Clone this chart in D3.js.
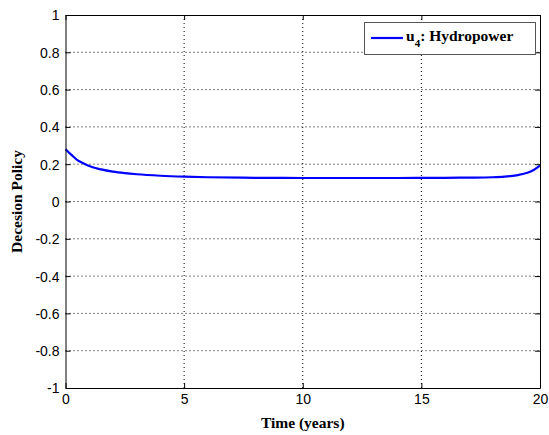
<!DOCTYPE html>
<html><head><meta charset="utf-8">
<script src="https://cdn.jsdelivr.net/npm/d3@7"></script>
<style>body{margin:0;background:#fff}</style>
</head><body><svg id="c" width="549" height="435"></svg>
<script>
const times = [0,0.25,0.5,0.75,1,1.5,2,2.5,3,4,5,6,8,10,12,14,16,17,18,18.5,19,19.5,19.75,20];
const values = [0.28,0.25,0.222,0.205,0.19,0.172,0.16,0.152,0.146,0.138,0.133,0.13,0.127,0.126,0.126,0.126,0.127,0.128,0.13,0.133,0.14,0.155,0.17,0.192];
const xTicks = [0,5,10,15,20];
const yTicks = [-1,-0.8,-0.6,-0.4,-0.2,0,0.2,0.4,0.6,0.8,1];
const seriesName = "Hydropower";

const svg = d3.select("#c");
const L=65.5,R=540,T=15,B=388;
const x = d3.scaleLinear().domain([0,20]).range([L,R]);
const y = d3.scaleLinear().domain([-1,1]).range([B,T]);

const g = svg.append("g");
g.selectAll(".gx").data(xTicks.slice(1,-1)).enter().append("line")
 .attr("x1",d=>x(d)).attr("x2",d=>x(d)).attr("y1",T).attr("y2",B)
 .attr("stroke","#000").attr("stroke-width",1).attr("stroke-dasharray","1,3");
g.selectAll(".gy").data(yTicks.slice(1,-1)).enter().append("line")
 .attr("y1",d=>y(d)).attr("y2",d=>y(d)).attr("x1",L).attr("x2",R)
 .attr("stroke","#000").attr("stroke-width",1).attr("stroke-dasharray","1,3");

const line = d3.line().x((d,i)=>x(times[i])).y(d=>y(d)).curve(d3.curveMonotoneX);
svg.append("path").attr("d",line(values)).attr("fill","none").attr("stroke","#0000ff").attr("stroke-width",2.2);

const fmt = d=> String(+d.toFixed(2));
const ax = svg.append("g").attr("transform",`translate(0,${B})`)
 .call(d3.axisBottom(x).tickValues(xTicks).tickSizeInner(-5).tickSizeOuter(0).tickPadding(6).tickFormat(fmt));
const axT = svg.append("g").attr("transform",`translate(0,${T})`)
 .call(d3.axisTop(x).tickValues(xTicks).tickSizeInner(-5).tickSizeOuter(0).tickFormat(""));
const ay = svg.append("g").attr("transform",`translate(${L},0)`)
 .call(d3.axisLeft(y).tickValues(yTicks).tickSizeInner(-5).tickSizeOuter(0).tickPadding(6).tickFormat(fmt));
const ayR = svg.append("g").attr("transform",`translate(${R},0)`)
 .call(d3.axisRight(y).tickValues(yTicks).tickSizeInner(-5).tickSizeOuter(0).tickFormat(""));
[ax,axT,ay,ayR].forEach(a=>{
  a.selectAll("path").attr("stroke","#000");
  a.selectAll("line").attr("stroke","#000");
  a.selectAll("text").attr("font-family","Liberation Sans, Arial, sans-serif").attr("font-size",14).attr("fill","#000");
});
ay.selectAll("text").attr("dy","0.35em");

svg.append("text").attr("x",(L+R)/2).attr("y",428).attr("text-anchor","middle")
 .attr("font-family","Liberation Serif, Times New Roman, serif").attr("font-weight","bold").attr("font-size",15.5).text("Time (years)");
svg.append("text").attr("transform",`translate(22,${(T+B)/2}) rotate(-90)`).attr("text-anchor","middle")
 .attr("font-family","Liberation Serif, Times New Roman, serif").attr("font-weight","bold").attr("font-size",15.5).text("Decesion Policy");

const lg = svg.append("g");
lg.append("rect").attr("x",364.5).attr("y",22.5).attr("width",171).attr("height",32).attr("fill","#fff").attr("stroke","#555").attr("stroke-width",1);
lg.append("line").attr("x1",371).attr("x2",403).attr("y1",38).attr("y2",38).attr("stroke","#0000ff").attr("stroke-width",2.2);
const t = lg.append("text").attr("x",406).attr("y",41).attr("font-family","Liberation Serif, Times New Roman, serif").attr("font-weight","bold").attr("font-size",15.5);
t.append("tspan").text("u");
t.append("tspan").attr("dy",6).attr("font-size",11).text("4");
t.append("tspan").attr("dy",-6).text(": " + seriesName);
</script></body></html>
